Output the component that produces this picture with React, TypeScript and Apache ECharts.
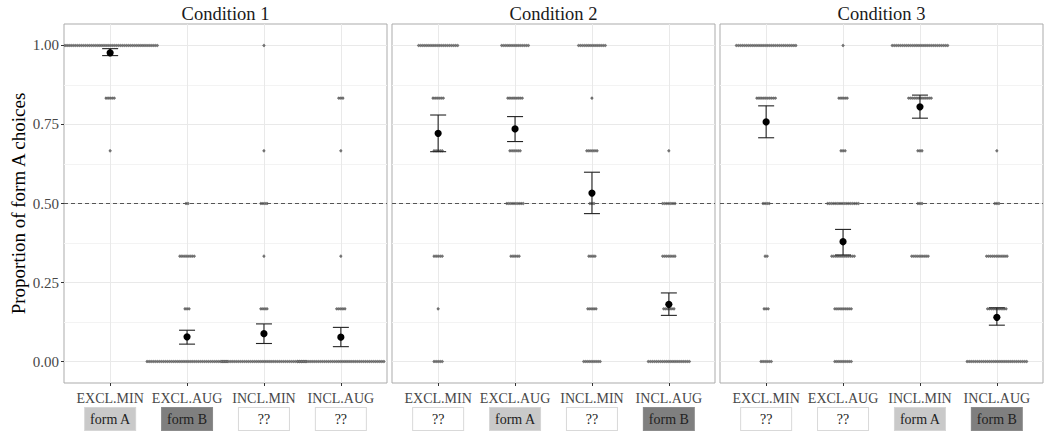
import React, { useEffect, useRef } from "react";
import * as echarts from "echarts";

const categories = ["EXCL.MIN", "EXCL.AUG", "INCL.MIN", "INCL.AUG"];
const conditions = ["Condition 1", "Condition 2", "Condition 3"];
const levels = [0, 1 / 6, 2 / 6, 3 / 6, 4 / 6, 5 / 6, 1];
const yTicks = [0, 0.25, 0.5, 0.75, 1];
const yMinorTicks = [0.125, 0.375, 0.625, 0.875];
const xTicks = [1, 2, 3, 4];

// number of participants at each proportion level (index matches `levels`)
const counts1 = [
  [0, 0, 0, 0, 1, 5, 47],
  [40, 3, 8, 2, 0, 0, 0],
  [42, 4, 1, 4, 1, 0, 1],
  [43, 5, 1, 0, 1, 3, 0],
];
const counts2 = [
  [5, 1, 5, 0, 5, 6, 20],
  [0, 0, 5, 9, 6, 8, 14],
  [9, 5, 4, 3, 6, 1, 14],
  [21, 6, 7, 7, 1, 0, 0],
];
const counts3 = [
  [6, 3, 2, 4, 0, 10, 30],
  [9, 9, 12, 16, 3, 5, 1],
  [0, 0, 9, 3, 3, 12, 28],
  [30, 10, 11, 3, 1, 0, 0],
];

const means1 = [0.977, 0.078, 0.088, 0.077];
const lower1 = [0.968, 0.055, 0.057, 0.047];
const upper1 = [0.99, 0.099, 0.119, 0.108];
const means2 = [0.722, 0.736, 0.533, 0.181];
const lower2 = [0.664, 0.696, 0.468, 0.146];
const upper2 = [0.78, 0.775, 0.599, 0.217];
const means3 = [0.758, 0.379, 0.806, 0.14];
const lower3 = [0.708, 0.337, 0.77, 0.115];
const upper3 = [0.809, 0.418, 0.843, 0.17];

const forms1 = ["form A", "form B", "??", "??"];
const forms2 = ["??", "form A", "??", "form B"];
const forms3 = ["??", "??", "form A", "form B"];

const chance = 0.5;

const FONT = "'Liberation Serif', 'DejaVu Serif', serif";

export default function App() {
  const ref = useRef<HTMLDivElement>(null);

  useEffect(() => {
    if (!ref.current) return;
    const chart = echarts.init(ref.current, undefined, { renderer: "svg" });

    const panels = [
      { counts: counts1, means: means1, lower: lower1, upper: upper1, forms: forms1 },
      { counts: counts2, means: means2, lower: lower2, upper: upper2, forms: forms2 },
      { counts: counts3, means: means3, lower: lower3, upper: upper3, forms: forms3 },
    ];
    const gridLefts = [64, 392, 720];
    const gridW = 323;
    const gridTop = 24;
    const gridH = 359;
    const yMin = -0.068;
    const yMax = 1.068;

    const formKey = (f: string) => (f === "form A" ? "a" : f === "form B" ? "b" : "q");

    const boxBase = {
      width: 50,
      height: 22,
      lineHeight: 22,
      align: "center",
      fontSize: 14,
      fontFamily: FONT,
      color: "#222",
      borderWidth: 1,
    };

    const grids = gridLefts.map((l) => ({
      left: l,
      top: gridTop,
      width: gridW,
      height: gridH,
      show: true,
      borderColor: "#ababab",
      borderWidth: 1,
      backgroundColor: "transparent",
    }));

    const xAxes = panels.map((p, i) => ({
      type: "value",
      gridIndex: i,
      position: "bottom",
      min: 0.4,
      max: 4.6,
      axisLine: { show: false, onZero: false },
      axisTick: {
        show: true,
        customValues: xTicks,
        length: 3,
        lineStyle: { color: "#333" },
      },
      splitLine: { show: true, lineStyle: { color: "#e9e9e9", width: 1 } },
      axisLabel: {
        show: true,
        customValues: xTicks,
        margin: 5,
        formatter: (v: number) => {
          const k = Math.round(v) - 1;
          return `{n|${categories[k]}}\n{${formKey(p.forms[k])}|${p.forms[k]}}`;
        },
        rich: {
          n: { fontSize: 14, lineHeight: 20, fontFamily: FONT, color: "#474747" },
          a: { ...boxBase, backgroundColor: "#c9c9c9", borderColor: "#d6d6d6" },
          b: { ...boxBase, backgroundColor: "#7f7f7f", borderColor: "#8c8c8c" },
          q: { ...boxBase, backgroundColor: "#ffffff", borderColor: "#d9d9d9" },
        },
      },
    }));

    const yAxes: any[] = [];
    panels.forEach((_, i) => {
      yAxes.push({
        type: "value",
        gridIndex: i,
        min: yMin,
        max: yMax,
        position: "left",
        axisLine: { show: false, onZero: false },
        axisTick: {
          show: i === 0,
          customValues: yTicks,
          length: 3,
          lineStyle: { color: "#333" },
        },
        axisLabel: {
          show: i === 0,
          customValues: yTicks,
          margin: 5,
          formatter: (v: number) => v.toFixed(2),
          fontSize: 15,
          fontFamily: FONT,
          color: "#474747",
        },
        splitLine: { show: true, lineStyle: { color: "#e9e9e9", width: 1 } },
        name: i === 0 ? "Proportion of form A choices" : "",
        nameLocation: "middle",
        nameGap: 36,
        nameRotate: 90,
        nameTextStyle: { fontSize: 19, fontFamily: FONT, color: "#000" },
      });
      yAxes.push({
        type: "value",
        gridIndex: i,
        min: yMin,
        max: yMax,
        position: "left",
        axisLine: { show: false, onZero: false },
        axisTick: { show: false, customValues: yMinorTicks },
        axisLabel: { show: false, customValues: yMinorTicks },
        splitLine: { show: true, lineStyle: { color: "#f3f3f3", width: 1 } },
      });
    });

    const S = 2.05;
    const R = 1.2;
    const series: any[] = [];
    panels.forEach((p, i) => {
      const dotData: number[][] = [];
      p.counts.forEach((row, c) => {
        row.forEach((n, l) => {
          if (n > 0) dotData.push([c + 1, levels[l], n]);
        });
      });
      series.push({
        type: "custom",
        xAxisIndex: i,
        yAxisIndex: 2 * i,
        z: 2,
        clip: true,
        silent: true,
        data: dotData,
        renderItem: (params: any, api: any) => {
          const c = api.coord([api.value(0), api.value(1)]);
          const n = api.value(2);
          const children = [];
          for (let j = 0; j < n; j++) {
            children.push({
              type: "circle",
              shape: { cx: c[0] + (j - (n - 1) / 2) * S, cy: c[1], r: R },
              style: { fill: "#7a7a7a", stroke: "#4a4a4a", lineWidth: 0.5 },
            });
          }
          return { type: "group", children };
        },
      });
      series.push({
        type: "custom",
        xAxisIndex: i,
        yAxisIndex: 2 * i,
        z: 5,
        silent: true,
        data: p.means.map((m, c) => [c + 1, m, p.lower[c], p.upper[c]]),
        markLine: {
          silent: true,
          symbol: "none",
          label: { show: false },
          lineStyle: { type: [4, 3], color: "#555", width: 1 },
          data: [{ yAxis: chance }],
        },
        renderItem: (params: any, api: any) => {
          const x = api.value(0);
          const mid = api.coord([x, api.value(1)]);
          const lo = api.coord([x, api.value(2)]);
          const hi = api.coord([x, api.value(3)]);
          const hw = 8;
          const ls = { stroke: "#222", lineWidth: 1.1 };
          return {
            type: "group",
            children: [
              { type: "line", shape: { x1: mid[0], y1: lo[1], x2: mid[0], y2: hi[1] }, style: ls },
              { type: "line", shape: { x1: mid[0] - hw, y1: lo[1], x2: mid[0] + hw, y2: lo[1] }, style: ls },
              { type: "line", shape: { x1: mid[0] - hw, y1: hi[1], x2: mid[0] + hw, y2: hi[1] }, style: ls },
              { type: "circle", shape: { cx: mid[0], cy: mid[1], r: 3.6 }, style: { fill: "#000" } },
            ],
          };
        },
      });
    });

    const graphic = conditions.map((t, i) => ({
      type: "text",
      x: gridLefts[i] + gridW / 2,
      y: 14,
      style: {
        text: t,
        align: "center",
        verticalAlign: "middle",
        fontSize: 18.5,
        fontFamily: FONT,
        fill: "#1a1a1a",
      },
    }));

    chart.setOption({
      animation: false,
      backgroundColor: "#ffffff",
      grid: grids,
      xAxis: xAxes,
      yAxis: yAxes,
      series,
      graphic,
    });

    return () => chart.dispose();
  }, []);

  return (
    <div
      ref={ref}
      style={{ position: "fixed", left: 0, top: 0, width: 1044, height: 432 }}
    />
  );
}
